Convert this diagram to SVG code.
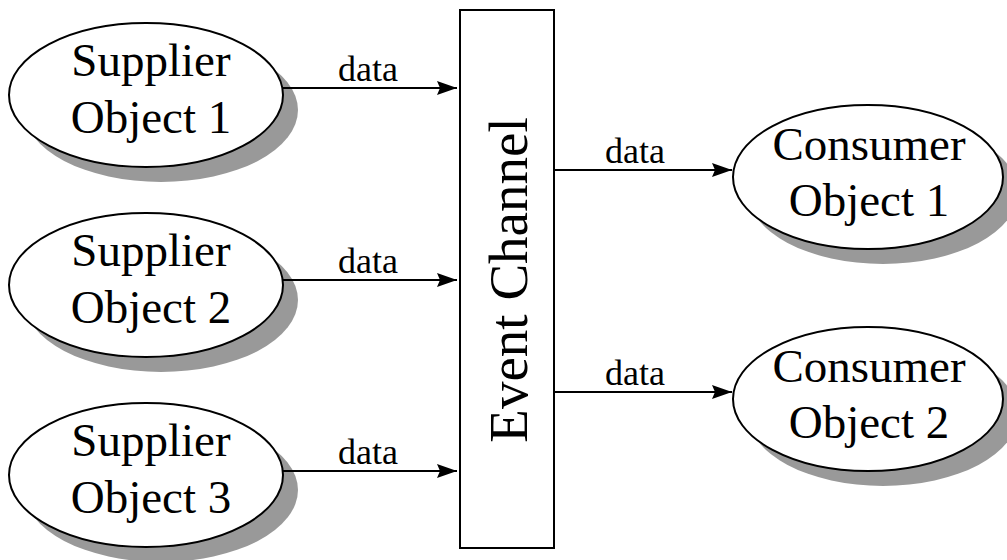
<svg xmlns="http://www.w3.org/2000/svg" width="1007" height="560" viewBox="0 0 1007 560">
  <style>
    .shadow { fill: #999999; stroke: none; }
    .node { fill: #ffffff; stroke: #000000; stroke-width: 2; }
    .label { font-family: "Liberation Serif", "Times New Roman", serif; font-size: 47px; fill: #000000; text-anchor: middle; }
    .flow { font-family: "Liberation Serif", "Times New Roman", serif; font-size: 36px; fill: #000000; text-anchor: middle; }
    .wire { stroke: #000000; stroke-width: 2; fill: none; }
  </style>
  <defs>
    <marker id="arrow" viewBox="0 0 20 14" refX="20" refY="7" markerWidth="20" markerHeight="14" markerUnits="userSpaceOnUse" orient="auto">
      <path d="M0,0 L20,7 L0,14 L3,7 Z" fill="#000000"/>
    </marker>
  </defs>
  <rect width="1007" height="560" fill="#ffffff"/>

  <!-- suppliers -->
  <g id="supplier1">
    <ellipse class="shadow" cx="161" cy="110" rx="137" ry="72"/>
    <ellipse class="node" cx="146" cy="95" rx="137" ry="72"/>
    <text class="label" x="151" y="76">Supplier</text>
    <text class="label" x="151" y="133">Object 1</text>
  </g>
  <g id="supplier2">
    <ellipse class="shadow" cx="161" cy="300" rx="137" ry="72"/>
    <ellipse class="node" cx="146" cy="285" rx="137" ry="72"/>
    <text class="label" x="151" y="266">Supplier</text>
    <text class="label" x="151" y="323">Object 2</text>
  </g>
  <g id="supplier3">
    <ellipse class="shadow" cx="161" cy="490" rx="137" ry="72"/>
    <ellipse class="node" cx="146" cy="475" rx="137" ry="72"/>
    <text class="label" x="151" y="456">Supplier</text>
    <text class="label" x="151" y="513">Object 3</text>
  </g>

  <!-- channel -->
  <g id="event-channel">
    <rect class="node" x="460" y="10" width="94" height="538"/>
    <text class="label" transform="translate(527,280) rotate(-90)" style="font-size:55px">Event Channel</text>
  </g>

  <!-- consumers -->
  <g id="consumer1">
    <ellipse class="shadow" cx="883" cy="192" rx="135" ry="72"/>
    <ellipse class="node" cx="868" cy="177" rx="135" ry="72"/>
    <text class="label" x="869" y="160">Consumer</text>
    <text class="label" x="869" y="216">Object 1</text>
  </g>
  <g id="consumer2">
    <ellipse class="shadow" cx="883" cy="414" rx="135" ry="72"/>
    <ellipse class="node" cx="868" cy="399" rx="135" ry="72"/>
    <text class="label" x="869" y="382">Consumer</text>
    <text class="label" x="869" y="438">Object 2</text>
  </g>

  <!-- connectors -->
  <g id="connectors">
    <line class="wire" x1="282" y1="88" x2="457" y2="88" marker-end="url(#arrow)"/>
    <line class="wire" x1="282" y1="280" x2="457" y2="280" marker-end="url(#arrow)"/>
    <line class="wire" x1="282" y1="471" x2="457" y2="471" marker-end="url(#arrow)"/>
    <line class="wire" x1="555" y1="170" x2="732" y2="170" marker-end="url(#arrow)"/>
    <line class="wire" x1="555" y1="392" x2="732" y2="392" marker-end="url(#arrow)"/>
    <text class="flow" x="368" y="81">data</text>
    <text class="flow" x="368" y="273">data</text>
    <text class="flow" x="368" y="464">data</text>
    <text class="flow" x="635" y="163">data</text>
    <text class="flow" x="635" y="385">data</text>
  </g>
</svg>
